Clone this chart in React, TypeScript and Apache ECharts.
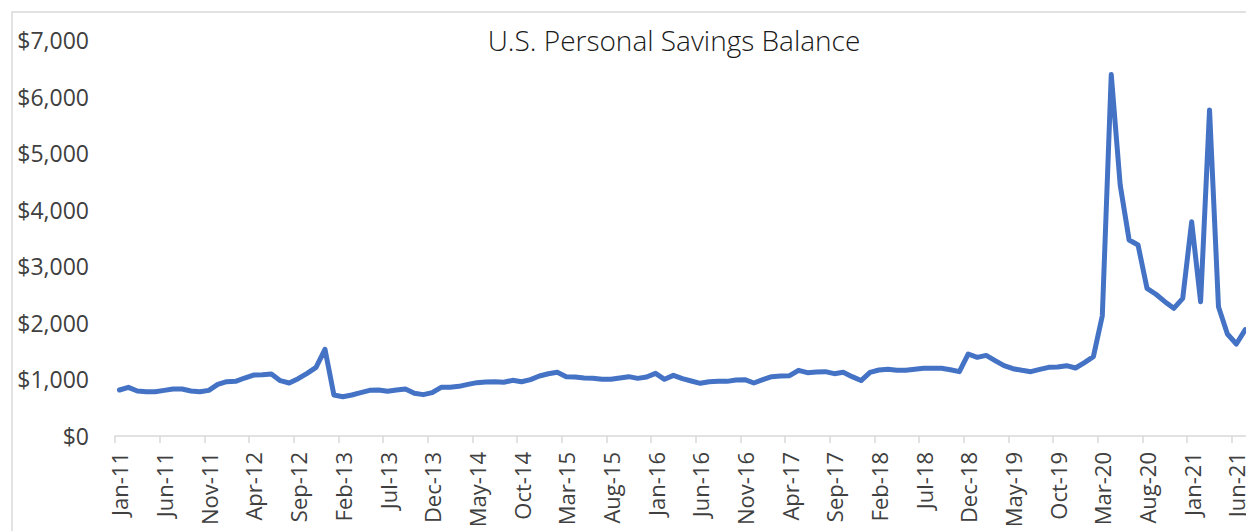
import React, { useEffect, useRef } from "react";
import * as echarts from "echarts";

const MONTHS = ["Jan", "Feb", "Mar", "Apr", "May", "Jun", "Jul", "Aug", "Sep", "Oct", "Nov", "Dec"];
const START_YEAR = 11;

const savings = [
  813, 860, 795, 783, 783, 807, 830, 830, 795, 783, 807, 913,
  960, 966, 1025, 1078, 1084, 1096, 978, 937, 1013, 1108, 1214, 1532,
  725, 695, 725, 766, 807, 813, 790, 813, 830, 754, 731, 766,
  860, 860, 878, 913, 943, 955, 960, 949, 984, 960, 996, 1060,
  1100, 1126, 1049, 1043, 1025, 1019, 1002, 1002, 1025, 1049, 1019, 1043,
  1108, 1002, 1072, 1013, 972, 931, 960, 966, 966, 990, 996, 937,
  995, 1049, 1060, 1066, 1161, 1120, 1131, 1137, 1102, 1126, 1049, 980,
  1126, 1167, 1178, 1161, 1161, 1178, 1196, 1196, 1196, 1172, 1137, 1450,
  1390, 1425, 1332, 1243, 1190, 1161, 1137, 1178, 1214, 1220, 1243, 1202,
  1296, 1403, 2127, 6390, 4437, 3465, 3376, 2610, 2505, 2374, 2257, 2434,
  3788, 2374, 5763, 2286, 1803, 1626, 1880,
];

const categories = savings.map((_, i) => {
  const m = MONTHS[i % 12];
  const y = START_YEAR + Math.floor(i / 12);
  return `${m}-${String(y).padStart(2, "0")}`;
});

const Y_MIN = 0;
const Y_MAX = 7000;
const Y_STEP = 1000;
const TITLE = "U.S. Personal Savings Balance";

const FONT = "'Open Sans', 'Noto Sans', sans-serif";

export default function App() {
  const ref = useRef<HTMLDivElement>(null);

  useEffect(() => {
    if (!ref.current) return;
    const chart = echarts.init(ref.current, null, { renderer: "svg" });
    const monthW = 8.935;
    const plotW = categories.length * monthW;
    chart.setOption({
      animation: false,
      backgroundColor: "#ffffff",
      textStyle: { fontFamily: FONT },
      grid: { left: 115, top: 40, width: plotW, height: 396, containLabel: false },
      graphic: [
        {
          type: "rect",
          z: 0,
          shape: { x: 12, y: 12, width: 1500, height: 800 },
          style: { fill: "none", stroke: "#d9d9d9", lineWidth: 1.5 },
          silent: true,
        },
        {
          type: "text",
          x: 674,
          y: 40,
          style: {
            text: TITLE,
            fontSize: 28,
            fontWeight: 300,
            fontFamily: FONT,
            fill: "#1a1a1a",
            textAlign: "center",
            textVerticalAlign: "middle",
          },
        },
      ],
      xAxis: {
        type: "category",
        data: categories,
        boundaryGap: true,
        axisLine: { show: true, lineStyle: { color: "#d9d9d9", width: 1.5 } },
        axisTick: { show: true, interval: 4, length: 7, lineStyle: { color: "#d9d9d9", width: 1.5 } },
        axisLabel: {
          interval: 4,
          rotate: 90,
          margin: 16,
          fontSize: 22,
          color: "#404040",
          fontFamily: FONT,
        },
        splitLine: { show: false },
      },
      yAxis: {
        type: "value",
        min: Y_MIN,
        max: Y_MAX,
        interval: Y_STEP,
        axisLine: { show: false },
        axisTick: { show: false },
        splitLine: { show: false },
        axisLabel: {
          margin: 26,
          fontSize: 23,
          color: "#404040",
          fontFamily: FONT,
          formatter: (v: number) => "$" + v.toLocaleString("en-US"),
        },
      },
      series: [
        {
          type: "line",
          data: savings,
          symbol: "none",
          lineStyle: { color: "#4472C4", width: 5, join: "round", cap: "round" },
          itemStyle: { color: "#4472C4" },
        },
      ],
    });
    return () => chart.dispose();
  }, []);

  return (
    <div
      style={{
        position: "fixed",
        left: 0,
        top: 0,
        width: 1246,
        height: 531,
        overflow: "hidden",
        background: "#ffffff",
      }}
    >
      <div ref={ref} style={{ position: "absolute", left: 0, top: 0, width: 1300, height: 560 }} />
    </div>
  );
}
